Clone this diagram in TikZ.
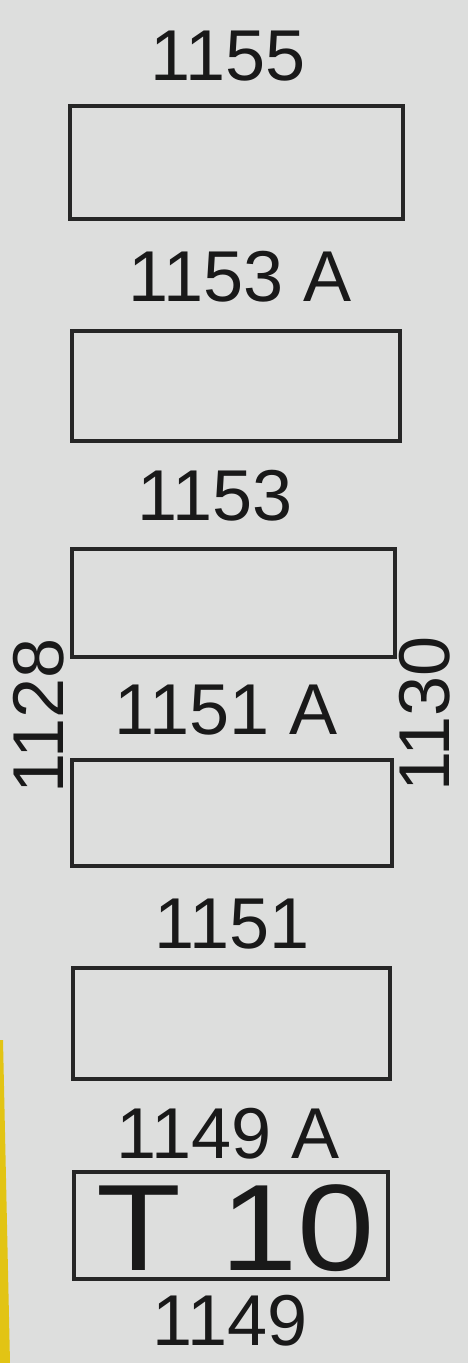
\documentclass[tikz,border=0pt]{standalone}
\usepackage{fontspec}
\setmainfont{Liberation Sans}
\definecolor{paper}{RGB}{221,222,221}
\definecolor{tape}{RGB}{226,196,20}
\begin{document}
\begin{tikzpicture}[x=0.02cm,y=-0.02cm,
    slot/.style={draw=black!85,line width=1.9pt,inner sep=0pt},
    num/.style={font=\fontsize{41}{41}\selectfont,inner sep=0pt,text=black!90}]
            % Paper and the yellow edge
            \fill[paper] (0,0) rectangle (468,1363);
            \fill[tape] (0,1040) -- (3,1040) -- (10,1363) -- (0,1363) -- cycle;
            \useasboundingbox (0,0) rectangle (468,1363);

            % Place the boxes
            \node[slot,minimum width=333*0.02cm,minimum height=113*0.02cm] (b1) at (236.5,162.5) {};
            \node[slot,minimum width=328*0.02cm,minimum height=110*0.02cm] (b2) at (236,386) {};
            \node[slot,minimum width=323*0.02cm,minimum height=108*0.02cm] (b3) at (233.5,603) {};
            \node[slot,minimum width=320*0.02cm,minimum height=106*0.02cm] (b4) at (232,813) {};
            \node[slot,minimum width=317*0.02cm,minimum height=111*0.02cm] (b5) at (231.5,1023.5) {};
            \node[slot,minimum width=314*0.02cm,minimum height=107*0.02cm] (b6) at (231,1225.5) {};
            \node[inner sep=0pt,xscale=1.13,font=\fontsize{70}{70}\selectfont,text=black!90] (t10) at (236,1228) {T 10};

            % Place the numbers
            \node[num] (n1155) at (228,56) {1155};
            \node[num] (n1153a) at (240,277) {1153 A};
            \node[num] (n1153) at (215,496) {1153};
            \node[num] (n1151a) at (226,710) {1151 A};
            \node[num] (n1151) at (232,924) {1151};
            \node[num] (n1149a) at (228,1134) {1149 A};
            \node[num] (n1149) at (230,1321) {1149};
            \node[num,rotate=90] (n1128) at (39,716) {1128};
            \node[num,rotate=90] (n1130) at (425,714) {1130};
        \end{tikzpicture}
\end{document}
